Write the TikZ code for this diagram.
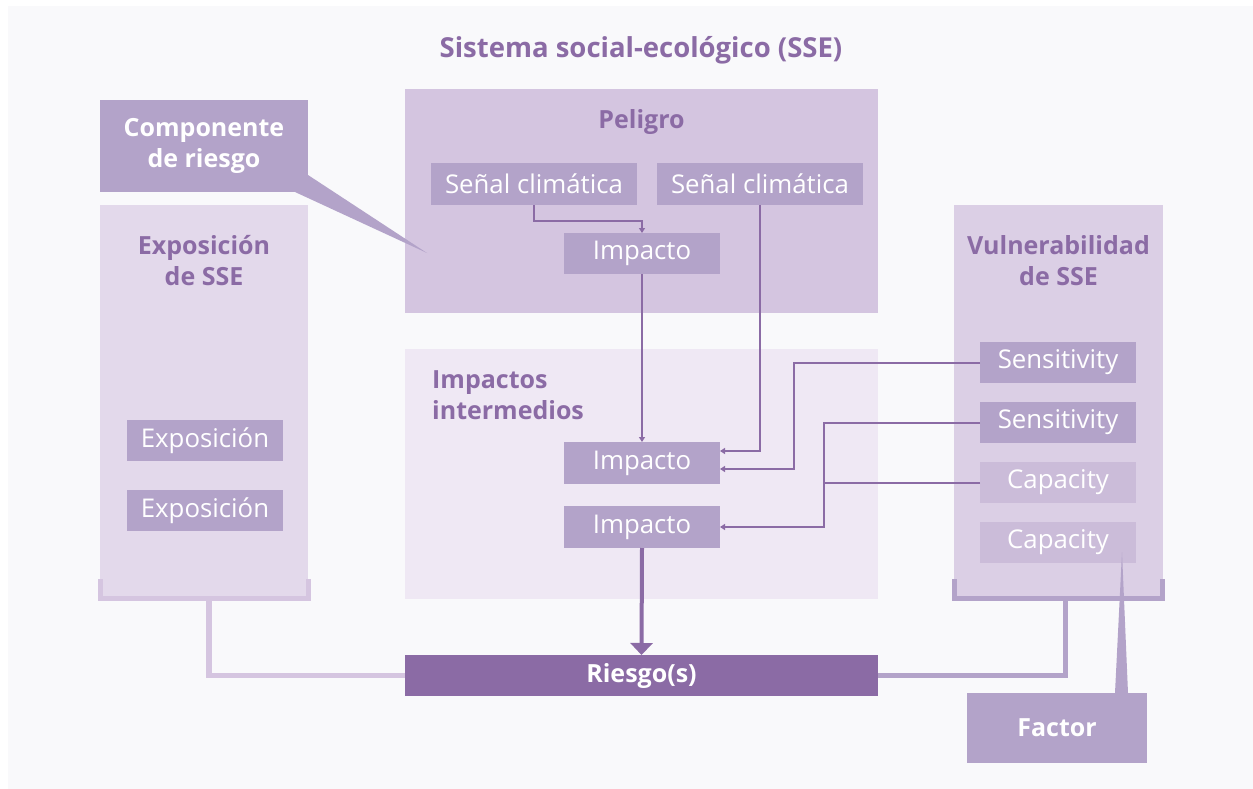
\documentclass[tikz,border=0pt]{standalone}
\usepackage{fontspec}
\setmainfont{Open Sans}
\usetikzlibrary{arrows.meta}
\definecolor{bgc}{HTML}{F9F9FB}
\definecolor{dpurple}{HTML}{8B6BA5}
\definecolor{mpurple}{HTML}{B3A3C9}
\definecolor{peligroc}{HTML}{D4C5E0}
\definecolor{vulc}{HTML}{DBCFE5}
\definecolor{expoc}{HTML}{E3D9EB}
\definecolor{interc}{HTML}{EFE8F4}
\definecolor{capc}{HTML}{CBBCD9}
\definecolor{brackl}{HTML}{D5C5E0}
\tikzset{
  panel/.style={inner sep=0pt, outer sep=0pt, draw=none},
  itembox/.style={fill=mpurple, text=white, inner sep=0pt, outer sep=0pt,
    font=\fontsize{25.8}{30}\selectfont},
  titletext/.style={text=dpurple, font=\bfseries\fontsize{25}{31}\selectfont, align=center, inner sep=0pt},
  calloutbox/.style={fill=mpurple, text=white, inner sep=0pt, outer sep=0pt,
    font=\bfseries\fontsize{25}{31}\selectfont, align=center},
  conn/.style={draw=dpurple, line width=2pt, -{Triangle[length=5pt,width=6pt]}},
  connplain/.style={draw=dpurple, line width=2pt},
  itemtext/.style={yshift=-1.5pt},
}
\begin{document}
\begin{tikzpicture}[x=1pt,y=-1pt]
\useasboundingbox (0,0) rectangle (1253,789);
\fill[bgc] (8,6) rectangle (1253,789);

% title
\node[titletext, font=\bfseries\fontsize{27.5}{31}\selectfont] (title) at (641,50) {Sistema social-ecológico (SSE)};

% panels
\node[panel, fill=peligroc, minimum width=473pt, minimum height=224pt] (pel) at (641.5,201) {};
\node[titletext] (peltitle) at (641.5,122) {Peligro};
\node[panel, fill=interc, minimum width=473pt, minimum height=250pt] (inter) at (641.5,474) {};
\node[titletext, align=left, anchor=north west] (intertitle) at (432,370) {Impactos\\intermedios};
\node[panel, fill=expoc, minimum width=208pt, minimum height=391pt] (expo) at (204,400.5) {};
\node[titletext] (expotitle) at (204,261) {Exposición\\de SSE};
\node[panel, fill=vulc, minimum width=209pt, minimum height=391pt] (vul) at (1058.5,400.5) {};
\node[titletext] (vultitle) at (1058.5,261) {Vulnerabilidad\\de SSE};

% brackets
\draw[brackl, line width=5.5pt] (100.5,579) -- (100.5,598.5) -- (308.5,598.5) -- (308.5,579);
\draw[mpurple, line width=5.5pt] (954.5,579) -- (954.5,598.5) -- (1162.5,598.5) -- (1162.5,579);

% risk box
\node[panel, fill=dpurple, text=white, font=\bfseries\fontsize{25}{31}\selectfont,
  minimum width=473pt, minimum height=41pt] (riesgo) at (641.5,675.5) {Riesgo(s)};

% bracket connectors
\draw[brackl, line width=5.5pt] ([xshift=5pt]expo.south) |- (riesgo.west);
\draw[mpurple, line width=5.5pt] ([xshift=7pt]vul.south) |- (riesgo.east);

% inner boxes
\node[itembox, minimum width=206pt, minimum height=42pt] (s1) at (534,184) {Señal climática};
\node[itembox, minimum width=206pt, minimum height=42pt] (s2) at (760,184) {Señal climática};
\node[itembox, minimum width=156pt, minimum height=41pt] (imp1) at (642,253.5) {Impacto};
\node[itembox, minimum width=156pt, minimum height=42pt] (imp2) at (642,463) {Impacto};
\node[itembox, minimum width=156pt, minimum height=42pt] (imp3) at (642,527) {Impacto};
\node[itembox, minimum width=156pt, minimum height=41pt] (ex1) at (205,440.5) {Exposición};
\node[itembox, minimum width=156pt, minimum height=41pt] (ex2) at (205,510.5) {Exposición};
\node[itembox, minimum width=156pt, minimum height=41pt] (sen1) at (1058,362.5) {Sensitivity};
\node[itembox, minimum width=156pt, minimum height=41pt] (sen2) at (1058,422.5) {Sensitivity};
\node[itembox, fill=capc, minimum width=156pt, minimum height=41pt] (cap1) at (1058,482.5) {Capacity};
\node[itembox, fill=capc, minimum width=156pt, minimum height=41pt] (cap2) at (1058,542.5) {Capacity};

% connectors
\draw[conn] (s1.south) -- ++(0,16) -| (imp1.north);
\draw[conn] (imp1.south) -- (imp2.north);
\draw[conn] (s2.south) |- ([yshift=12pt]imp2.east);
\draw[conn] (sen1.west) -- ++(-186,0) |- ([yshift=-6pt]imp2.east);
\draw[conn] (sen2.west) -- ++(-156,0) |- (imp3.east);
\draw[connplain] (cap1.west) -- ++(-157,0);
\draw[dpurple, line width=4pt, -{Triangle[length=12pt,width=22pt]}] (imp3.south) -- (riesgo.north);

% callouts
\node[calloutbox, minimum width=208pt, minimum height=92pt] (comp) at (204,146) {Componente\\de riesgo};
\coordinate (tip1) at (427,253);
\fill[mpurple] ([yshift=17pt]comp.south east) -- (tip1) -- ([xshift=-13pt]comp.south east) -- cycle;

\node[calloutbox, minimum width=180pt, minimum height=70pt] (factor) at (1057,728) {Factor};
\coordinate (tip2) at (1122,552);
\fill[mpurple] ([xshift=58pt]factor.north) -- (tip2) -- ([xshift=71pt]factor.north) -- cycle;
\end{tikzpicture}
\end{document}
